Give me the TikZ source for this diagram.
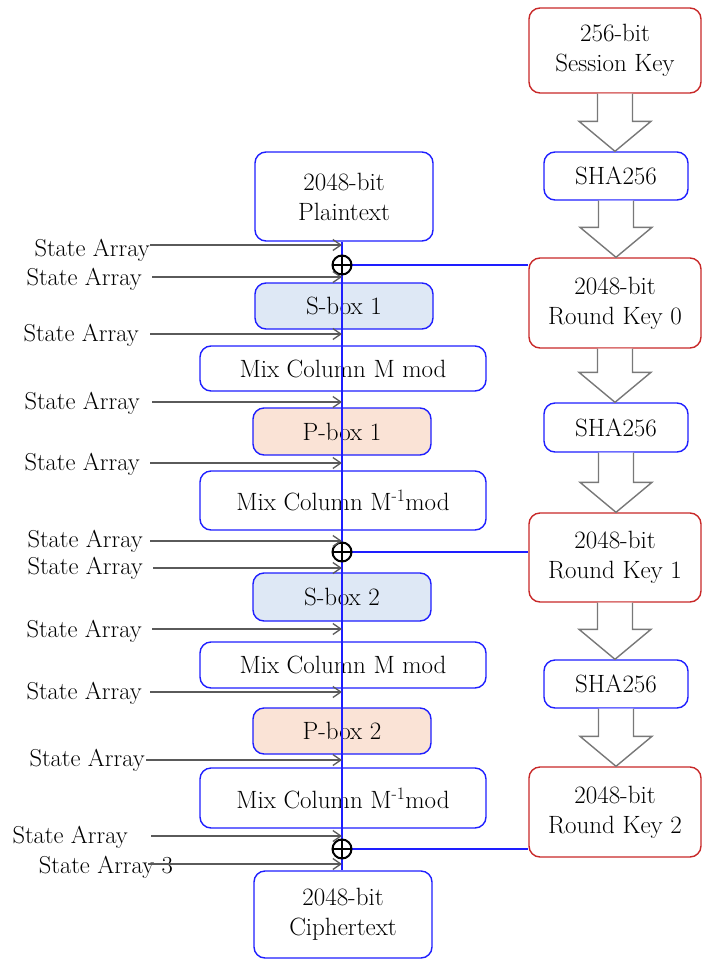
\documentclass[tikz,border=0pt]{standalone}
\usetikzlibrary{arrows.meta,calc}
\definecolor{bblue}{RGB}{30,30,255}
\definecolor{rred}{RGB}{200,40,40}
\definecolor{sfill}{RGB}{222,232,245}
\definecolor{pfill}{RGB}{250,227,214}
\definecolor{agray}{RGB}{90,90,90}
\definecolor{hgray}{RGB}{120,120,120}
\tikzset{
  box/.style={draw=bblue, line width=1.4pt, rounded corners=11pt, inner sep=0pt,
    align=center, font=\fontsize{25}{30}\selectfont, fill=white},
  keybox/.style={box, draw=rred},
  sboxst/.style={box, fill=sfill},
  pboxst/.style={box, fill=pfill},
  xorst/.style={circle, draw=black, line width=2pt, minimum size=19pt, inner sep=0pt, fill=white,
    path picture={\draw[black, line width=2pt] (path picture bounding box.north) -- (path picture bounding box.south)
      (path picture bounding box.west) -- (path picture bounding box.east);}},
  bline/.style={draw=bblue, line width=1.4pt},
  statearrow/.style={draw=agray, line width=1.3pt, -{Straight Barb[length=8pt,width=11pt,line width=1.3pt]}},
  satext/.style={anchor=base east, inner sep=0pt, font=\fontsize{24.5}{30}\selectfont},
  hollowst/.style={draw=hgray, line width=1.4pt, fill=white, line join=miter}
}
\newcommand\hollowarrow[2]{%
  \draw[hollowst] let \p1=(#1.south), \p2=(#2.north) in
    (\x1-17.5pt,\y1) -- (\x1-17.5pt,\y2+30pt) -- (\x1-36pt,\y2+30pt) -- (\x1,\y2)
    -- (\x1+36pt,\y2+30pt) -- (\x1+17.5pt,\y2+30pt) -- (\x1+17.5pt,\y1);}
\begin{document}
\begin{tikzpicture}[x=1pt,y=-1pt]
\useasboundingbox (0,0) rectangle (702,959);
% left column
\node[box, minimum width=178pt, minimum height=89pt] (plain) at (344,196.5) {2048-bit\\Plaintext};
\node[sboxst, minimum width=178pt, minimum height=46pt] (sbox1) at (344,306) {S-box 1};
\node[box, minimum width=286pt, minimum height=45pt] (mix1) at (343,368.5) {Mix Column M mod};
\node[pboxst, minimum width=178pt, minimum height=47pt] (pbox1) at (342,431.5) {P-box 1};
\node[box, minimum width=286pt, minimum height=59pt] (mix2) at (343,500.5) {Mix Column M\textsuperscript{-1}mod};
\node[sboxst, minimum width=178pt, minimum height=48pt] (sbox2) at (342,597) {S-box 2};
\node[box, minimum width=286pt, minimum height=46pt] (mix3) at (343,665) {Mix Column M mod};
\node[pboxst, minimum width=178pt, minimum height=46pt] (pbox2) at (342,731) {P-box 2};
\node[box, minimum width=286pt, minimum height=60pt] (mix4) at (343,798) {Mix Column M\textsuperscript{-1}mod};
\node[box, minimum width=178pt, minimum height=87pt] (cipher) at (343,914.5) {2048-bit\\Ciphertext};
% right column
\node[keybox, minimum width=172pt, minimum height=85pt] (skey) at (615,50.5) {256-bit\\Session Key};
\node[box, minimum width=144pt, minimum height=48pt] (sha1) at (616,176) {SHA256};
\node[keybox, minimum width=172pt, minimum height=90pt] (rk0) at (615,303) {2048-bit\\Round Key 0};
\node[box, minimum width=144pt, minimum height=49pt] (sha2) at (616,427.5) {SHA256};
\node[keybox, minimum width=172pt, minimum height=89pt] (rk1) at (615,557.5) {2048-bit\\Round Key 1};
\node[box, minimum width=144pt, minimum height=48pt] (sha3) at (616,684) {SHA256};
\node[keybox, minimum width=172pt, minimum height=90pt] (rk2) at (615,812) {2048-bit\\Round Key 2};
% hollow arrows
\hollowarrow{skey}{sha1}
\hollowarrow{sha1}{rk0}
\hollowarrow{rk0}{sha2}
\hollowarrow{sha2}{rk1}
\hollowarrow{rk1}{sha3}
\hollowarrow{sha3}{rk2}
% xor positions
\coordinate (x1) at (342,265);
\coordinate (x2) at (342,552);
\coordinate (x3) at (342,849);
% vertical line and key lines
\draw[bline] (plain.south -| x1) -- (cipher.north -| x1);
\draw[bline] (x1) -- (rk0.west |- x1);
\draw[bline] (x2) -- (rk1.west |- x2);
\draw[bline] (x3) -- (rk2.west |- x3);
\node[xorst] (xor1) at (x1) {};
\node[xorst] (xor2) at (x2) {};
\node[xorst] (xor3) at (x3) {};
% state array inputs
\node[satext] (t1) at (150,256) {State Array};
\node[satext] (t2) at (142,285) {State Array};
\node[satext] (t3) at (139,341) {State Array};
\node[satext] (t4) at (140,409) {State Array};
\node[satext] (t5) at (140,470) {State Array};
\node[satext] (t6) at (143,547) {State Array};
\node[satext] (t7) at (143,574) {State Array};
\node[satext] (t8) at (142,637) {State Array};
\node[satext] (t9) at (142,699) {State Array};
\node[satext] (t10) at (145,766) {State Array};
\node[satext] (t11) at (128,843) {State Array};
\node[satext] (t12) at (173,873) {State Array 3};
\coordinate (s1) at (150,245);
\coordinate (s2) at (152,277);
\coordinate (s3) at (150,334);
\coordinate (s4) at (152,402);
\coordinate (s5) at (150,463);
\coordinate (s6) at (150,541);
\coordinate (s7) at (153,568);
\coordinate (s8) at (152,629);
\coordinate (s9) at (150,692);
\coordinate (s10) at (146,760);
\coordinate (s11) at (151,836);
\coordinate (s12) at (148,864);
\foreach \i in {1,...,12} {
  \draw[statearrow] (s\i) -- (s\i -| x1);
}
\end{tikzpicture}
\end{document}
